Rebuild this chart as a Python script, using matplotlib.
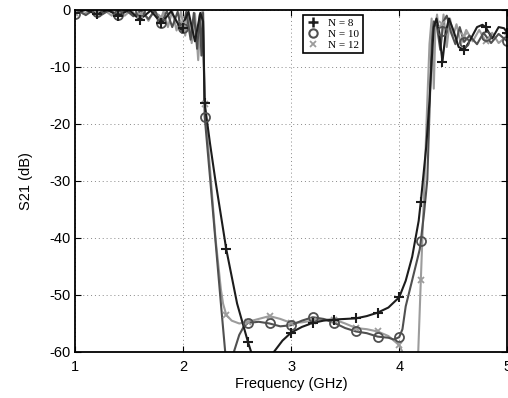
import numpy as np
import matplotlib
matplotlib.use("Agg")
import matplotlib.pyplot as plt
from matplotlib.lines import Line2D

plt.rcParams['font.family'] = ['Liberation Sans', 'DejaVu Sans']
plt.rcParams['axes.unicode_minus'] = False

# traced curves (frequency in GHz, S21 in dB)
f8 = [1.00, 1.10, 1.20, 1.30, 1.40, 1.50, 1.60, 1.70, 1.80, 1.89, 1.98, 2.05, 2.11, 2.16, 2.185, 2.20,
      2.25, 2.30, 2.40, 2.50, 2.60, 2.63, 2.72, 2.84, 2.92, 3.00, 3.10, 3.20, 3.30, 3.40, 3.50, 3.60,
      3.70, 3.80, 3.90, 4.00, 4.06, 4.12, 4.18, 4.20, 4.25, 4.28, 4.30, 4.32, 4.345, 4.37, 4.40, 4.43,
      4.46, 4.50, 4.55, 4.60, 4.65, 4.72, 4.77, 4.80, 4.86, 4.92, 4.97, 5.00]
s8 = [-0.5, 0.0, -0.7, 0.0, -1.0, 0.0, -1.7, -0.1, -2.3, -0.2, -3.4, -0.3, -5.5, -0.5, -2.0, -16.4,
      -23.5, -30.0, -42.0, -51.5, -58.2, -60.0, -64.0, -60.0, -58.0, -56.6, -55.6, -54.9, -54.5, -54.3, -54.2, -54.1,
      -53.7, -53.1, -52.2, -50.4, -47.5, -43.3, -37.0, -33.6, -24.0, -16.0, -9.0, -3.0, -1.5, -4.0, -9.1, -4.0,
      -1.5, -3.5, -6.5, -7.0, -5.5, -3.0, -2.6, -3.0, -5.0, -3.0, -3.2, -4.0]

f10 = [1.00, 1.04, 1.10, 1.17, 1.25, 1.32, 1.40, 1.47, 1.54, 1.61, 1.68, 1.74, 1.80, 1.85, 1.90, 1.95,
       1.99, 2.03, 2.07, 2.10, 2.13, 2.155, 2.17, 2.185, 2.20, 2.25, 2.30, 2.35, 2.39, 2.43, 2.47, 2.52,
       2.56, 2.60, 2.70, 2.80, 2.90, 3.00, 3.10, 3.20, 3.30, 3.40, 3.50, 3.60, 3.70, 3.80, 3.90, 3.95,
       4.00, 4.03, 4.06, 4.12, 4.19, 4.20, 4.23, 4.26, 4.28, 4.30, 4.32, 4.35, 4.38, 4.41, 4.44, 4.48,
       4.52, 4.56, 4.60, 4.65, 4.72, 4.78, 4.85, 4.92, 5.00]
s10 = [-0.7, -0.2, -0.9, 0.0, -0.8, 0.0, -0.9, 0.0, -1.1, -0.1, -1.6, -0.1, -2.3, -0.2, -3.0, -0.3,
       -4.0, -0.3, -5.2, -0.5, -6.8, -0.8, -8.0, -0.5, -18.7, -29.5, -40.5, -51.5, -60.0, -70.0, -60.0, -57.0,
       -55.6, -54.9, -54.7, -55.0, -55.5, -55.3, -54.5, -53.9, -54.2, -54.9, -55.8, -56.4, -56.7, -57.3, -57.5, -57.8,
       -57.4, -56.0, -52.0, -47.4, -42.0, -40.5, -35.6, -29.8, -18.0, -6.0, -2.0, -3.0, -7.0, -2.0, -1.0, -4.0,
       -6.0, -3.0, -5.6, -4.5, -6.0, -4.0, -5.8, -4.2, -5.5]

f12 = [1.00, 1.03, 1.08, 1.14, 1.20, 1.27, 1.34, 1.40, 1.46, 1.52, 1.58, 1.63, 1.68, 1.73, 1.78, 1.82,
       1.86, 1.90, 1.94, 1.98, 2.02, 2.05, 2.08, 2.11, 2.14, 2.165, 2.185, 2.20, 2.25, 2.30, 2.35, 2.37,
       2.40, 2.45, 2.52, 2.60, 2.70, 2.80, 2.90, 3.00, 3.10, 3.20, 3.30, 3.40, 3.50, 3.60, 3.70, 3.80,
       3.90, 4.00, 4.03, 4.08, 4.13, 4.176, 4.20, 4.23, 4.26, 4.28, 4.30, 4.32, 4.335, 4.35, 4.38, 4.41,
       4.44, 4.47, 4.50, 4.53, 4.57, 4.62, 4.68, 4.74, 4.80, 4.86, 4.92, 5.00]
s12 = [-0.5, -0.1, -0.7, -0.1, -0.6, 0.0, -1.0, 0.0, -1.0, 0.0, -1.4, -0.1, -1.9, -0.1, -2.4, -0.2,
       -3.0, -0.2, -3.6, -0.3, -4.5, -0.4, -5.8, -0.6, -8.8, -1.0, 0.0, -16.5, -28.0, -40.0, -49.0, -51.5,
       -53.5, -54.5, -55.0, -54.7, -54.2, -53.7, -54.2, -54.9, -54.8, -54.5, -54.3, -54.3, -55.0, -55.8, -56.0, -56.4,
       -57.2, -58.8, -60.0, -68.0, -68.0, -60.0, -47.4, -32.0, -16.0, -6.0, -1.5, -13.8, -3.0, -0.8, -6.0, -0.8,
       -6.5, -1.5, -4.5, -2.5, -6.0, -3.5, -5.5, -3.5, -5.5, -4.0, -5.8, -4.5]

# marker samples every 0.2 GHz (nan = below the plotted range)
fm = [1.0, 1.2, 1.4, 1.6, 1.8, 2.0, 2.2, 2.4, 2.6, 2.8, 3.0, 3.2, 3.4, 3.6, 3.8, 4.0, 4.2, 4.4, 4.6, 4.8, 5.0]
m8 = [-0.5, -0.7, -1.0, -1.7, -2.3, -3.2, -16.4, -42.0, -58.2, np.nan, -56.6, -54.9, -54.3, -54.1, -53.1, -50.4,
      -33.6, -9.1, -7.0, -3.0, -4.0]
m10 = [-0.7, -0.3, -0.9, -0.2, -2.3, -3.1, -18.7, np.nan, -54.9, -55.0, -55.3, -53.9, -54.9, -56.4, -57.3, -57.4,
       -40.5, -3.7, -5.6, -4.5, -5.5]
m12 = [-0.5, -0.6, 0.0, -0.9, -1.3, -2.4, -16.5, -53.5, -54.7, -53.7, -54.9, -54.5, -54.3, -55.8, -56.4, -58.8,
       -47.4, -2.5, -4.5, -5.5, -4.5]

c8, c10, c12 = '#1c1c1c', '#505050', '#9c9c9c'

fig = plt.figure(figsize=(5.08, 3.98), dpi=100)
ax = fig.add_axes([0.1476, 0.1156, 0.851, 0.8593])

ax.plot(f12, s12, color=c12, lw=1.5)
ax.plot(f10, s10, color=c10, lw=1.5)
ax.plot(f8, s8, color=c8, lw=1.5)
ax.plot(fm, m12, ls='none', marker='x', ms=4.5, mew=1.3, color=c12)
ax.plot(fm, m10, ls='none', marker='o', ms=6.5, mew=1.3, mfc='none', color=c10)
ax.plot(fm, m8, ls='none', marker='+', ms=7.5, mew=1.5, color=c8)

ax.set_xlim(1, 5)
ax.set_ylim(-60, 0)
ax.set_xticks([1, 2, 3, 4, 5])
ax.set_yticks([-60, -50, -40, -30, -20, -10, 0])
ax.grid(True, ls=(0, (1, 3)), color='#888888', lw=0.7)
ax.tick_params(direction='in', top=True, right=True, labelsize=10.5, length=4)
ax.tick_params(axis='x', pad=6)
ax.tick_params(axis='y', pad=3)
for sp in ax.spines.values():
    sp.set_linewidth(1.3)
ax.set_xlabel('Frequency (GHz)', fontsize=10.5, labelpad=2)
ax.set_ylabel('S21 (dB)', fontsize=10.5, labelpad=12)

handles = [Line2D([], [], ls='none', marker='+', ms=7, mew=1.8, color=c8),
           Line2D([], [], ls='none', marker='o', ms=6, mew=1.5, mfc='none', color=c10),
           Line2D([], [], ls='none', marker='x', ms=4, mew=1.3, color=c12)]
leg = ax.legend(handles, ['N = 8', 'N = 10', 'N = 12'], loc='upper left', bbox_to_anchor=(0.527, 0.985),
                prop={'family': 'Liberation Serif', 'size': 8}, frameon=True, fancybox=False,
                framealpha=1, edgecolor='black', borderpad=0.3, labelspacing=0.1,
                handlelength=1.2, handletextpad=0.8, borderaxespad=0)
leg.get_frame().set_linewidth(1.2)

fig.savefig('out.png', dpi=100)
